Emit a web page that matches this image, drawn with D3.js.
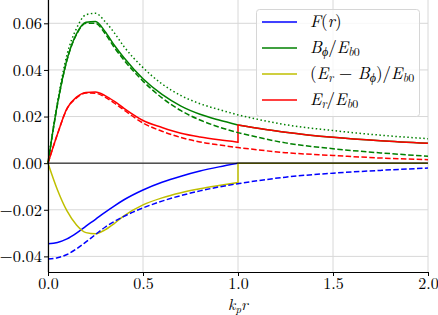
<!DOCTYPE html>
<html>
<head>
<meta charset="utf-8">
<script src="https://cdn.jsdelivr.net/npm/d3@7"></script>
<style>
  body { margin: 0; background: #fff; }
  #chart { width: 438px; height: 315px; }
  .axis path, .axis line { stroke: #000; }
  .grid line { stroke: #d8d8d8; stroke-width: 1; }
</style>
</head>
<body>
<div id="chart"></div>
<script>
// radius samples; 1.0 appears twice so series can jump at the boundary
var rVals = [0, 0.05, 0.1, 0.15, 0.2, 0.25, 0.3, 0.35, 0.4, 0.5, 0.6, 0.7, 0.8, 0.9, 1.0, 1.0, 1.25, 1.5, 1.75, 2.0];

var fSolid   = [-0.0346, -0.0340, -0.0325, -0.0300, -0.0270, -0.0241, -0.0211, -0.0183, -0.0157, -0.0115, -0.0082, -0.0056, -0.0034, -0.0016, 0, 0, 0, 0, 0, 0];
var fDashed  = [-0.0411, -0.0406, -0.0392, -0.0368, -0.0338, -0.0306, -0.0275, -0.0250, -0.0228, -0.0192, -0.0163, -0.0139, -0.0119, -0.0102, -0.0088, -0.0088, -0.0060, -0.0043, -0.0031, -0.0021];
var bSolid   = [0, 0.0255, 0.0445, 0.0555, 0.0605, 0.0608, 0.0565, 0.0505, 0.0452, 0.0362, 0.0295, 0.0245, 0.0210, 0.0185, 0.0164, 0.0164, 0.0133, 0.0111, 0.0096, 0.0085];
var bDashed  = [0, 0.0252, 0.0442, 0.0552, 0.0600, 0.0600, 0.0556, 0.0495, 0.0442, 0.0352, 0.0280, 0.0225, 0.0185, 0.0155, 0.0131, 0.0131, 0.0087, 0.0062, 0.0044, 0.0030];
var bDotted  = [0, 0.0262, 0.0465, 0.0578, 0.0637, 0.0643, 0.0608, 0.0558, 0.0500, 0.0410, 0.0340, 0.0290, 0.0255, 0.0230, 0.0207, 0.0207, 0.0165, 0.0140, 0.0120, 0.0105];
var diffVals = [0, -0.0115, -0.0205, -0.0265, -0.0298, -0.0303, -0.0286, -0.0258, -0.0226, -0.0179, -0.0149, -0.0127, -0.0110, -0.0096, -0.0083, 0, 0, 0, 0, 0];
var eSolid   = [0, 0.0125, 0.0235, 0.0283, 0.0303, 0.0305, 0.0290, 0.0265, 0.0235, 0.0183, 0.0153, 0.0128, 0.0112, 0.0100, 0.0090, 0.0164, 0.0133, 0.0111, 0.0096, 0.0085];
var eDashed  = [0, 0.0125, 0.0233, 0.0280, 0.0301, 0.0300, 0.0283, 0.0257, 0.0228, 0.0172, 0.0137, 0.0110, 0.0091, 0.0078, 0.0067, 0.0067, 0.0045, 0.0033, 0.0022, 0.0015];

var xTicks = [0, 0.5, 1.0, 1.5, 2.0];
var yTicks = [-0.04, -0.02, 0, 0.02, 0.04, 0.06];

// Computer Modern look-alike
var serif = "Latin Modern Roman";

var margin = {top: 0, right: 10, bottom: 43, left: 48},
    width = 438 - margin.left - margin.right,
    height = 315 - margin.top - margin.bottom;

var x = d3.scaleLinear().domain([0, 2]).range([0, width]);
var y = d3.scaleLinear().domain([-0.0467, 0.07]).range([height, 0]);

var svg = d3.select("#chart").append("svg")
    .attr("width", 438)
    .attr("height", 315)
    .append("g")
    .attr("transform", "translate(" + margin.left + "," + margin.top + ")");

// grid
svg.append("g").attr("class", "grid")
    .selectAll("line.gx").data(xTicks).enter().append("line")
    .attr("x1", d => x(d)).attr("x2", d => x(d))
    .attr("y1", 0).attr("y2", height);
svg.append("g").attr("class", "grid")
    .selectAll("line.gy").data(yTicks).enter().append("line")
    .attr("x1", 0).attr("x2", width)
    .attr("y1", d => y(d)).attr("y2", d => y(d));

var line = d3.line()
    .x(d => x(d[0]))
    .y(d => y(d[1]))
    .curve(d3.curveMonotoneX);

// split at the repeated r = 1.0 so each piece is smooth and the jump is straight
function pathFor(vals) {
    var pts = rVals.map((r, i) => [r, vals[i]]);
    var k = rVals.lastIndexOf(1.0);
    var inner = pts.slice(0, k), outer = pts.slice(k);
    return line(inner) + line(outer).replace(/^M/, "L");
}

var series = [
    {vals: fSolid,   color: "#0000ff", dash: null},
    {vals: bSolid,   color: "#008000", dash: null},
    {vals: diffVals, color: "#bfbf00", dash: null},
    {vals: eSolid,   color: "#ff0000", dash: null},
    {vals: fDashed,  color: "#0000ff", dash: "5.5,2.4"},
    {vals: bDashed,  color: "#008000", dash: "5.5,2.4"},
    {vals: eDashed,  color: "#ff0000", dash: "5.5,2.4"},
    {vals: bDotted,  color: "#008000", dash: "1.5,2.5"}
];

svg.selectAll(".series")
    .data(series)
    .enter().append("path")
    .attr("class", "series")
    .attr("d", d => pathFor(d.vals))
    .attr("fill", "none")
    .attr("stroke", d => d.color)
    .attr("stroke-width", 1.5)
    .attr("stroke-dasharray", d => d.dash);

// zero line
svg.append("line")
    .attr("x1", 0).attr("x2", width)
    .attr("y1", y(0)).attr("y2", y(0))
    .attr("stroke", "#000").attr("stroke-width", 1);

// axes
var xAxis = d3.axisBottom(x).tickValues(xTicks).tickFormat(d3.format(".1f")).tickSize(4).tickPadding(2);
var yAxis = d3.axisLeft(y).tickValues(yTicks).tickFormat(d3.format(".2f")).tickSize(4).tickPadding(2);

var gx = svg.append("g")
    .attr("class", "x axis")
    .attr("transform", "translate(0," + height + ")")
    .call(xAxis)
    .attr("font-family", serif)
    .attr("font-size", 16);
gx.select(".domain").attr("d", "M0,0.5H" + width);

var gy = svg.append("g")
    .attr("class", "y axis")
    .call(yAxis)
    .attr("font-family", serif)
    .attr("font-size", 16.5);
gy.select(".domain").attr("d", "M0.5,0V" + height);
svg.selectAll(".axis .domain").attr("stroke-width", 1.2);

// x label k_p r
var xl = svg.append("text")
    .attr("x", width / 2)
    .attr("y", height + 38)
    .attr("font-family", serif)
    .attr("font-size", 16)
    .style("text-anchor", "middle")
    .style("font-style", "italic");
xl.append("tspan").text("k");
xl.append("tspan").attr("dy", 3).attr("font-size", 11).text("p");
xl.append("tspan").attr("dy", -3).text("r");

// legend
var legendItems = [
    {color: "#0000ff", parts: [["F", 0, "i"], ["(", 0, "n"], ["r", 0, "i"], [")", 0, "n"]]},
    {color: "#008000", parts: [["B", 0, "i"], ["ϕ", 1, "i"], ["/", 0, "n"], ["E", 0, "i"], ["b", 1, "i"], ["0", 1, "n"]]},
    {color: "#bfbf00", parts: [["(", 0, "n"], ["E", 0, "i"], ["r", 1, "i"], [" − ", 0, "n"], ["B", 0, "i"], ["ϕ", 1, "i"], [")/", 0, "n"], ["E", 0, "i"], ["b", 1, "i"], ["0", 1, "n"]]},
    {color: "#ff0000", parts: [["E", 0, "i"], ["r", 1, "i"], ["/", 0, "n"], ["E", 0, "i"], ["b", 1, "i"], ["0", 1, "n"]]}
];

var legend = svg.append("g").attr("transform", "translate(" + (256 - margin.left) + ",9)");
legend.append("rect")
    .attr("x", 0.5).attr("y", 0.5)
    .attr("width", 163).attr("height", 107)
    .attr("rx", 3)
    .attr("fill", "#fff").attr("fill-opacity", 0.8)
    .attr("stroke", "#d6d6d6");

legendItems.forEach(function(item, i) {
    var cy = 13 + i * 26;
    legend.append("line")
        .attr("x1", 6).attr("x2", 41)
        .attr("y1", cy).attr("y2", cy)
        .attr("stroke", item.color).attr("stroke-width", 1.5);
    var t = legend.append("text")
        .attr("x", 54).attr("y", cy + 5)
        .attr("font-family", serif)
        .attr("font-size", 17);
    var prevSub = 0;
    item.parts.forEach(function(p) {
        var ts = t.append("tspan").text(p[0])
            .style("font-style", p[2] === "i" ? "italic" : "normal")
            .attr("font-size", p[1] ? 12 : 17);
        if (p[1] !== prevSub) ts.attr("dy", p[1] ? 3 : -3);
        prevSub = p[1];
    });
});
</script>
</body>
</html>
